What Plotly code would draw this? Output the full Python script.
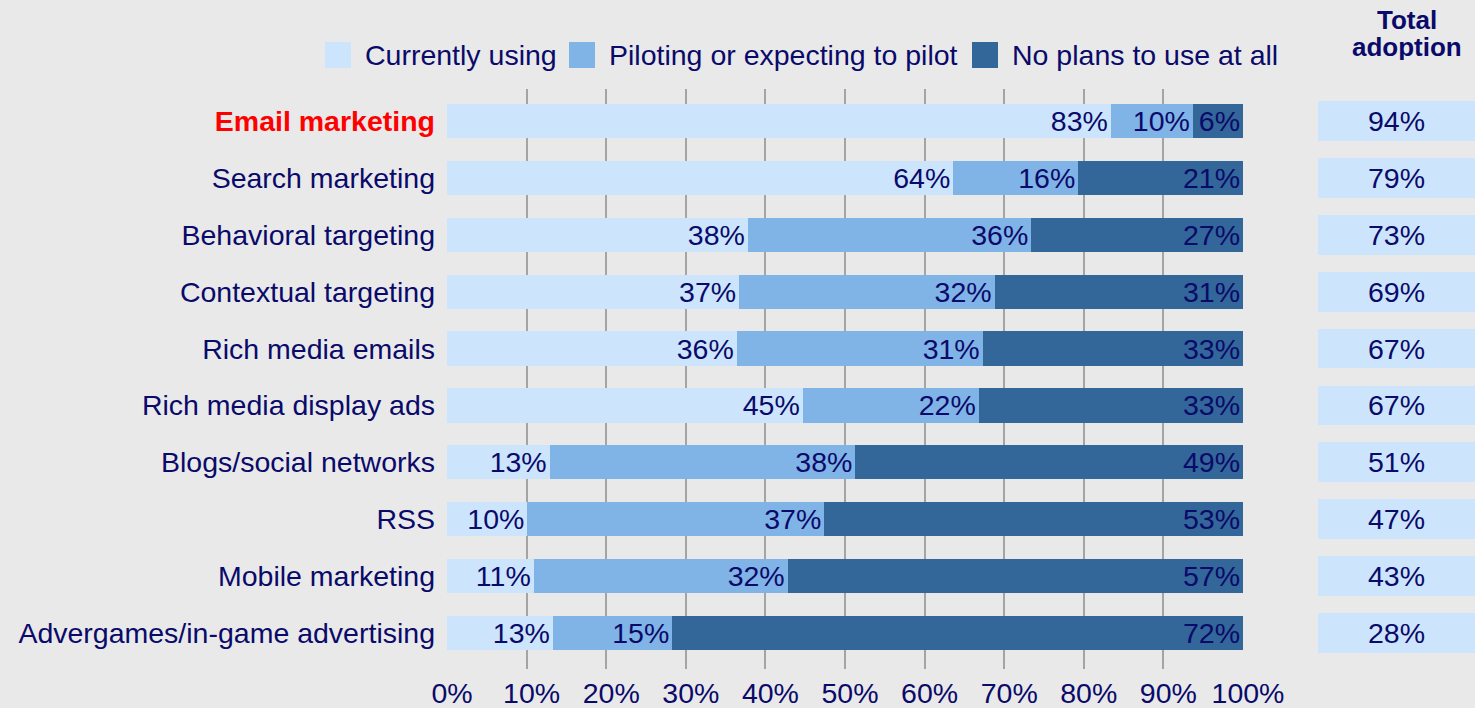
import plotly.graph_objects as go

categories = ["Email marketing", "Search marketing", "Behavioral targeting",
              "Contextual targeting", "Rich media emails", "Rich media display ads",
              "Blogs/social networks", "RSS", "Mobile marketing",
              "Advergames/in-game advertising"]
currently_using = [83.4, 63.6, 37.8, 36.7, 36.4, 44.7, 12.9, 10.1, 10.9, 13.3]
piloting = [10.3, 15.7, 35.6, 32.1, 30.9, 22.1, 38.4, 37.3, 31.9, 15.0]
no_plans = [6.3, 20.7, 26.6, 31.2, 32.7, 33.2, 48.7, 52.6, 57.2, 71.7]
total_adoption = [94, 79, 73, 69, 67, 67, 51, 47, 43, 28]
x_ticks = [0, 10, 20, 30, 40, 50, 60, 70, 80, 90, 100]

series_names = ["Currently using", "Piloting or expecting to pilot", "No plans to use at all"]
colors = ["#cce5fc", "#80b3e6", "#336699"]
navy = "#0a0a6a"
font_family = "Liberation Sans, Arial, Helvetica, sans-serif"
FS = 28.5

W, H = 1475, 708
T, B = 89, 39
PH = H - T - B

fig = go.Figure()
for name, vals, col in zip(series_names, [currently_using, piloting, no_plans], colors):
    fig.add_trace(go.Bar(
        y=categories, x=vals, name=name, orientation="h",
        marker=dict(color=col, line=dict(width=0)),
        text=[f"{round(v)}%" for v in vals],
        textposition="inside", insidetextanchor="end",
        textfont=dict(color=navy, size=FS, family=font_family),
        constraintext="none", cliponaxis=False,
        hoverinfo="skip", showlegend=False,
    ))

fig.add_trace(go.Bar(
    y=categories, x=[1] * len(categories), orientation="h",
    xaxis="x2", yaxis="y", showlegend=False,
    marker=dict(color=colors[0], line=dict(width=0)),
    width=0.70,
    text=[f"{v}%" for v in total_adoption],
    textposition="inside", insidetextanchor="middle",
    textfont=dict(color=navy, size=FS, family=font_family),
    constraintext="none", hoverinfo="skip",
))

ticktext = []
for c in categories:
    if c == "Email marketing":
        ticktext.append("<b><span style='color:#ff0000'>" + c + "</span></b>")
    else:
        ticktext.append(c)

# Custom legend (large square keys like the reference)
legend_key_left = [325, 569, 972]   # px
shapes = []
annotations = []
for name, col, xl in zip(series_names, colors, legend_key_left):
    shapes.append(dict(
        type="rect", xref="paper", yref="paper",
        x0=xl / W, x1=(xl + 26) / W,
        y0=1 + (T - 68) / PH, y1=1 + (T - 42) / PH,
        fillcolor=col, line=dict(width=0), layer="above",
    ))
    annotations.append(dict(
        text=name, xref="paper", yref="paper",
        x=(xl + 38) / W, y=1 + (T - 55) / PH, xanchor="left", yanchor="middle",
        showarrow=False, font=dict(size=FS, color=navy),
    ))

for txt, yc in [("<b>Total</b>", 20), ("<b>adoption</b>", 47)]:
    annotations.append(dict(
        text=txt, xref="paper", yref="paper",
        x=1407 / W, y=1 + (T - yc) / PH, xanchor="center", yanchor="middle",
        height=26, valign="middle", borderpad=0,
        showarrow=False, font=dict(size=26, color=navy),
    ))

fig.update_layout(
    width=W, height=H,
    barmode="stack", bargap=0.4,
    paper_bgcolor="#e9e9e9", plot_bgcolor="#e9e9e9",
    margin=dict(l=0, r=0, t=T, b=B, autoexpand=False),
    font=dict(family=font_family, size=FS, color=navy),
    showlegend=False,
    xaxis=dict(
        domain=[447 / W, 1243 / W], range=[0, 100.001],
        tickvals=x_ticks, ticktext=[f"{t}%" for t in x_ticks],
        showgrid=True, gridcolor="#a4a4a4", gridwidth=1.5,
        zeroline=False, showline=False, ticks="",
        ticklabelshift=5, ticklabelstandoff=4,
        tickfont=dict(size=FS, color=navy), automargin=False,
    ),
    xaxis2=dict(
        domain=[1318 / W, 1.0], range=[0, 1], anchor="y",
        showgrid=False, zeroline=False, showticklabels=False, showline=False,
        automargin=False,
    ),
    yaxis=dict(
        type="category", categoryorder="array", categoryarray=categories,
        range=[9.63, -0.56],
        tickvals=categories, ticktext=ticktext,
        showgrid=False, zeroline=False, showline=False, ticks="",
        ticklabelstandoff=11, automargin=False,
        tickfont=dict(size=FS, color=navy),
    ),
    shapes=shapes,
    annotations=annotations,
)

fig.write_html("out.html", config={"displayModeBar": False},
               post_script="document.body.style.margin='0';document.body.style.padding='0';")
